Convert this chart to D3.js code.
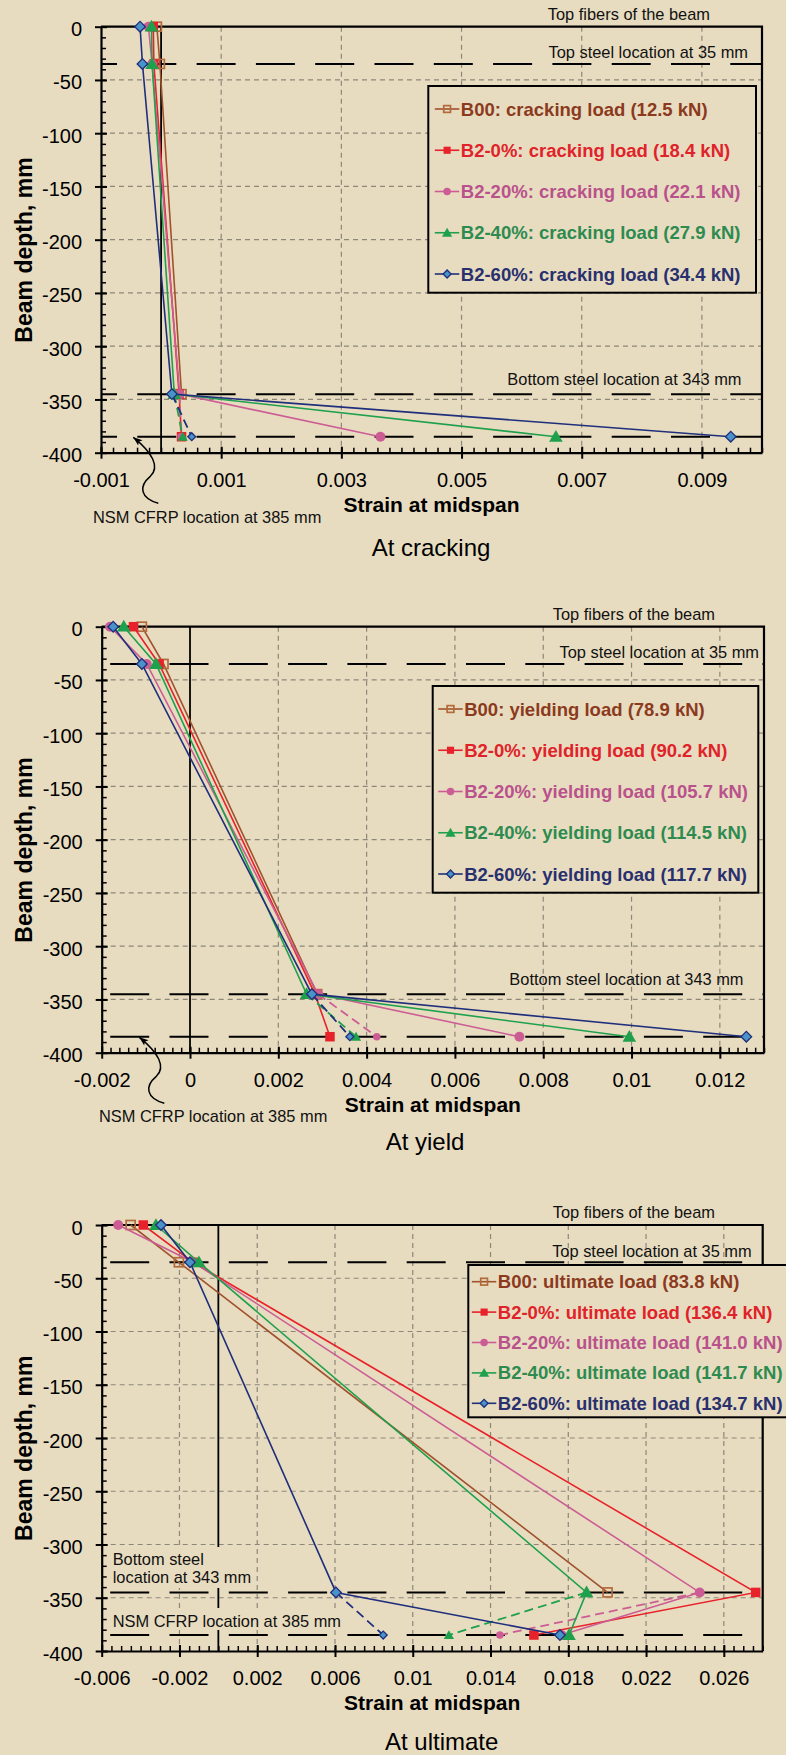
<!DOCTYPE html>
<html lang="en">
<head>
<meta charset="UTF-8">
<title>Strain profiles at midspan</title>
<script src="https://d3js.org/d3.v7.min.js"></script>
<style>
    body { margin: 0; background: #e8dcc0; }
    svg { display: block; font-family: "Liberation Sans", Arial, sans-serif; }
</style>
</head>
<body>
<svg id="chart" width="786" height="1755"></svg>
<script>
// ---- data ----
const depthLevels = [0, -35, -345, -385];   // top fibre, top steel, bottom steel, NSM CFRP
const seriesNames = ["B00", "B2-0%", "B2-20%", "B2-40%", "B2-60%"];
const crackLoads = ["12.5", "18.4", "22.1", "27.9", "34.4"];
const yieldLoads = ["78.9", "90.2", "105.7", "114.5", "117.7"];
const ultLoads = ["83.8", "136.4", "141.0", "141.7", "134.7"];

// per series: [top, top steel, bottom steel, CFRP measured (solid), CFRP extrapolated (dashed)]
const crackStrains = [
    [-0.00007, -0.00002, 0.00034, null, null],
    [-0.00013, -0.00012, 0.00030, 0.00034, null],
    [-0.00021, -0.00015, 0.00031, 0.00365, 0.00033],
    [-0.00016, -0.00015, 0.00022, 0.00657, 0.00036],
    [-0.00035, -0.00031, 0.00018, 0.00948, 0.00051]
];
const yieldStrains = [
    [-0.00109, -0.00060, 0.00288, null, null],
    [-0.00128, -0.00070, 0.00283, 0.00317, null],
    [-0.00181, -0.00098, 0.00290, 0.00746, 0.00423],
    [-0.00150, -0.00077, 0.00264, 0.00995, 0.00376],
    [-0.00174, -0.00109, 0.00276, 0.01260, 0.00362]
];
const ultStrains = [
    [-0.00451, -0.00203, 0.02002, null, null],
    [-0.00386, -0.00130, 0.02764, 0.01623, null],
    [-0.00515, -0.00129, 0.02476, 0.01765, 0.01448],
    [-0.00321, -0.00100, 0.01894, 0.01804, 0.01186],
    [-0.00295, -0.00146, 0.00605, 0.01757, 0.00848]
];

const crackTicks = [-0.001, 0.001, 0.003, 0.005, 0.007, 0.009];
const yieldTicks = [-0.002, 0, 0.002, 0.004, 0.006, 0.008, 0.01, 0.012];
const ultTicks = [-0.006, -0.002, 0.002, 0.006, 0.01, 0.014, 0.018, 0.022, 0.026];
const depthTicks = [0, -50, -100, -150, -200, -250, -300, -350, -400];

// ---- styles ----
const BG = "#e8dcc0";
const GRID = "#8d877a";
const lineColors = ["#a0522d", "#e8222a", "#cc5d94", "#1fa04c", "#1f2f7c"];
const textColors = ["#8b3a1e", "#e0232a", "#b9528c", "#2e8b50", "#28306e"];
const markerTypes = ["openSquare", "square", "circle", "triangle", "diamond"];

const svg = d3.select("#chart");
svg.append("rect").attr("width", 786).attr("height", 1755).attr("fill", BG);

svg.append("defs").append("marker")
    .attr("id", "arrow")
    .attr("markerUnits", "userSpaceOnUse")
    .attr("viewBox", "-10 -5 12 10")
    .attr("refX", 0).attr("refY", 0)
    .attr("markerWidth", 12).attr("markerHeight", 10)
    .attr("orient", "auto")
    .append("path")
    .attr("d", "M0,0 L-9,-3.5 L-7,0 L-9,3.5 Z")
    .attr("fill", "#000");

const charts = [
    {
        top: 26.7, left: 101, right: 762, domain: [-0.001, 0.01], ticks: crackTicks, minorStep: 0.0002,
        strains: crackStrains, loads: crackLoads, kind: "cracking", caption: "At cracking",
        captionX: 431, captionY: 556, dashOffset: 23,
        fibersX: 710, steelX: 748,
        legend: { x: 428.3, y: 86, w: 327.7, h: 206.7, first: 23, row: 41.25, pad: 6.5 },
        bottomNote: "right", nsm: { x: 93, y: 522.7 }, arrowTip: [133.3, 437.3]
    },
    {
        top: 626.7, left: 101.7, right: 764, domain: [-0.002, 0.013], ticks: yieldTicks, minorStep: 0.0002,
        strains: yieldStrains, loads: yieldLoads, kind: "yielding", caption: "At yield",
        captionX: 425, captionY: 1150, dashOffset: 50.8,
        fibersX: 715, steelX: 759,
        legend: { x: 432.7, y: 686, w: 325.6, h: 206.7, first: 23, row: 41.25, pad: 5.5 },
        bottomNote: "right", nsm: { x: 99, y: 1121.7 }, arrowTip: [139.3, 1037.3]
    },
    {
        top: 1225, left: 101.7, right: 762.7, domain: [-0.006, 0.028], ticks: ultTicks, minorStep: 0.0005,
        strains: ultStrains, loads: ultLoads, kind: "ultimate", caption: "At ultimate",
        captionX: 441.7, captionY: 1750, dashOffset: 50.8,
        fibersX: 715, steelX: 751.7,
        legend: { x: 468.3, y: 1265, w: 340, h: 152.3, first: 16.7, row: 30.4, pad: 3.5 },
        bottomNote: "left", nsm: { x: 112.7, y: 1626.7 }, arrowTip: null
    }
];

const fmt = v => String(+v.toPrecision(3));

function drawMarker(g, type, cx, cy, i, small) {
    const k = small ? 0.75 : 1;
    if (type === "circle") {
        g.append("circle").attr("cx", cx).attr("cy", cy).attr("r", 5 * k)
            .attr("fill", lineColors[i]);
    } else if (type === "square" || type === "openSquare") {
        const s = (type === "square" ? 9.5 : 9) * k;
        g.append("rect").attr("x", cx - s / 2).attr("y", cy - s / 2).attr("width", s).attr("height", s)
            .attr("fill", type === "square" ? lineColors[i] : "none")
            .attr("stroke", type === "square" ? "none" : "#b36a3a")
            .attr("stroke-width", 1.7);
    } else if (type === "triangle") {
        g.append("path")
            .attr("d", d3.symbol().type(d3.symbolTriangle).size(80 * k * k)())
            .attr("transform", `translate(${cx},${cy + 1})`)
            .attr("fill", lineColors[i]);
    } else {
        g.append("path")
            .attr("d", d3.symbol().type(d3.symbolSquare).size(56 * k * k)())
            .attr("transform", `translate(${cx},${cy}) rotate(45)`)
            .attr("fill", "#4a93c8").attr("stroke", lineColors[i]).attr("stroke-width", 1.3);
    }
}

charts.forEach(cfg => {
    const g = svg.append("g");
    const bottom = cfg.top + 426;
    const x = d3.scaleLinear().domain(cfg.domain).range([cfg.left, cfg.right]);
    const y = d3.scaleLinear().domain([-400, 0]).range([bottom, cfg.top]);

    // grid
    const gridX = cfg.ticks.filter(t => t !== cfg.domain[0] && t !== 0);
    g.selectAll(".vgrid").data(gridX).join("line")
        .attr("x1", d => x(d)).attr("x2", d => x(d))
        .attr("y1", cfg.top).attr("y2", bottom)
        .attr("stroke", GRID).attr("stroke-width", 1.2).attr("stroke-dasharray", "5,4");
    g.selectAll(".hgrid").data(depthTicks.filter(d => d !== 0 && d !== -400)).join("line")
        .attr("x1", cfg.left).attr("x2", cfg.right)
        .attr("y1", d => y(d)).attr("y2", d => y(d))
        .attr("stroke", GRID).attr("stroke-width", 1.2).attr("stroke-dasharray", "5,4");

    // zero strain line
    g.append("line")
        .attr("x1", x(0)).attr("x2", x(0)).attr("y1", cfg.top).attr("y2", bottom)
        .attr("stroke", "#000").attr("stroke-width", 1.8);

    // left text boxes for the ultimate chart hide grid and zero line
    if (cfg.bottomNote === "left") {
        g.append("rect").attr("x", 108).attr("y", 1547).attr("width", 148).attr("height", 41).attr("fill", BG);
        g.append("rect").attr("x", 108).attr("y", 1608).attr("width", 240).attr("height", 22).attr("fill", BG);
    }

    // location lines (top steel, bottom steel, CFRP)
    g.selectAll(".loc").data(depthLevels.slice(1)).join("line")
        .attr("x1", cfg.left).attr("x2", cfg.right)
        .attr("y1", d => y(d)).attr("y2", d => y(d))
        .attr("stroke", "#000").attr("stroke-width", 2)
        .attr("stroke-dasharray", "39,20.3").attr("stroke-dashoffset", cfg.dashOffset);

    // axes
    const minor = d3.range(cfg.domain[0], cfg.domain[1] + 1e-9, cfg.minorStep);
    g.append("g").attr("transform", `translate(0,${bottom})`)
        .call(d3.axisBottom(x).tickValues(minor).tickSize(-5).tickFormat(""))
        .call(a => a.select(".domain").remove())
        .selectAll("line").attr("stroke-width", 1.5);
    const xa = g.append("g").attr("transform", `translate(0,${bottom})`)
        .call(d3.axisBottom(x).tickValues(cfg.ticks).tickSizeInner(6).tickSizeOuter(0).tickPadding(14).tickFormat(fmt));
    xa.select(".domain").attr("stroke-width", 2.2);
    xa.selectAll(".tick line").attr("y1", -6).attr("stroke-width", 2);
    xa.selectAll(".tick text").attr("font-size", 20).attr("font-family", "Liberation Sans, Arial, sans-serif");

    const minorY = d3.range(-400, 1, 10);
    g.append("g").attr("transform", `translate(${cfg.left},0)`)
        .call(d3.axisLeft(y).tickValues(minorY).tickSize(-5).tickFormat(""))
        .call(a => a.select(".domain").remove())
        .selectAll("line").attr("stroke-width", 1.5);
    const ya = g.append("g").attr("transform", `translate(${cfg.left},0)`)
        .call(d3.axisLeft(y).tickValues(depthTicks).tickSizeInner(6).tickSizeOuter(0).tickPadding(13).tickFormat(fmt));
    ya.select(".domain").attr("stroke-width", 2.2);
    ya.selectAll(".tick line").attr("x1", 6).attr("stroke-width", 2);
    ya.selectAll(".tick text").attr("font-size", 20).attr("dy", "0.45em")
        .attr("font-family", "Liberation Sans, Arial, sans-serif");

    // frame top and right
    g.append("path")
        .attr("d", `M${cfg.left},${cfg.top}H${cfg.right}V${bottom}`)
        .attr("fill", "none").attr("stroke", "#000").attr("stroke-width", 2.2);

    // axis titles and caption
    g.append("text").attr("x", (cfg.left + cfg.right) / 2).attr("y", bottom + 59)
        .attr("text-anchor", "middle").attr("font-size", 21).attr("font-weight", "bold")
        .text("Strain at midspan");
    g.append("text").attr("transform", `translate(32,${cfg.top + 223.3}) rotate(-90)`)
        .attr("text-anchor", "middle").attr("font-size", 23).attr("font-weight", "bold")
        .text("Beam depth, mm");
    g.append("text").attr("x", cfg.captionX).attr("y", cfg.captionY)
        .attr("text-anchor", "middle").attr("font-size", 24)
        .text(cfg.caption);

    // annotations
    g.append("text").attr("x", cfg.fibersX).attr("y", cfg.top - 6.7)
        .attr("text-anchor", "end").attr("font-size", 16.4).attr("fill", "#111")
        .text("Top fibers of the beam");
    g.append("text").attr("x", cfg.steelX).attr("y", cfg.top + 31.6)
        .attr("text-anchor", "end").attr("font-size", 16.4).attr("fill", "#111")
        .text("Top steel location at 35 mm");
    if (cfg.bottomNote === "right") {
        g.append("text").attr("x", cfg.right - 20.5).attr("y", cfg.top + 358.3)
            .attr("text-anchor", "end").attr("font-size", 16.4).attr("fill", "#111")
            .text("Bottom steel location at 343 mm");
    } else {
        const t = g.append("text").attr("font-size", 16.4).attr("fill", "#111");
        t.append("tspan").attr("x", 112.7).attr("y", 1565).text("Bottom steel");
        t.append("tspan").attr("x", 112.7).attr("y", 1583.3).text("location at 343 mm");
    }
    g.append("text").attr("x", cfg.nsm.x).attr("y", cfg.nsm.y)
        .attr("font-size", 16.4).attr("fill", "#111")
        .text("NSM CFRP location at 385 mm");
    if (cfg.arrowTip) {
        const [tx, ty] = cfg.arrowTip;
        g.append("path")
            .attr("d", `M${tx + 25},${ty + 66} C${tx + 7},${ty + 61} ${tx + 5},${ty + 49} ${tx + 17},${ty + 39} C${tx + 27},${ty + 30} ${tx + 19},${ty + 15} ${tx},${ty}`)
            .attr("fill", "none").attr("stroke", "#000").attr("stroke-width", 1.5)
            .attr("marker-end", "url(#arrow)");
    }

    // legend
    const L = cfg.legend;
    g.append("rect").attr("x", L.x).attr("y", L.y).attr("width", L.w).attr("height", L.h)
        .attr("fill", BG).attr("stroke", "#000").attr("stroke-width", 2);
    seriesNames.forEach((name, i) => {
        const cy = L.y + L.first + i * L.row;
        const x0 = L.x + L.pad;
        g.append("line").attr("x1", x0).attr("x2", x0 + 24.5).attr("y1", cy).attr("y2", cy)
            .attr("stroke", lineColors[i]).attr("stroke-width", 1.6);
        drawMarker(g, markerTypes[i], x0 + 12.3, cy, i, true);
        g.append("text").attr("x", x0 + 26).attr("y", cy + 6.5)
            .attr("font-size", 18.5).attr("font-weight", "bold").attr("fill", textColors[i])
            .text(`${name}: ${cfg.kind} load (${cfg.loads[i]} kN)`);
    });

    // data
    cfg.strains.forEach((s, i) => {
        const main = [0, 1, 2].map(k => [s[k], depthLevels[k]]);
        const line = d3.line().x(d => x(d[0])).y(d => y(d[1]));
        if (s[4] !== null) {
            g.append("path").attr("d", line([main[2], [s[4], depthLevels[3]]]))
                .attr("fill", "none").attr("stroke", lineColors[i]).attr("stroke-width", 1.8)
                .attr("stroke-dasharray", "9,5");
        }
        const solid = s[3] !== null ? main.concat([[s[3], depthLevels[3]]]) : main;
        g.append("path").attr("d", line(solid))
            .attr("fill", "none").attr("stroke", lineColors[i]).attr("stroke-width", 1.6);
        solid.forEach(p => drawMarker(g, markerTypes[i], x(p[0]), y(p[1]), i, false));
        if (s[4] !== null) drawMarker(g, markerTypes[i], x(s[4]), y(depthLevels[3]), i, true);
    });
});
</script>
</body>
</html>
